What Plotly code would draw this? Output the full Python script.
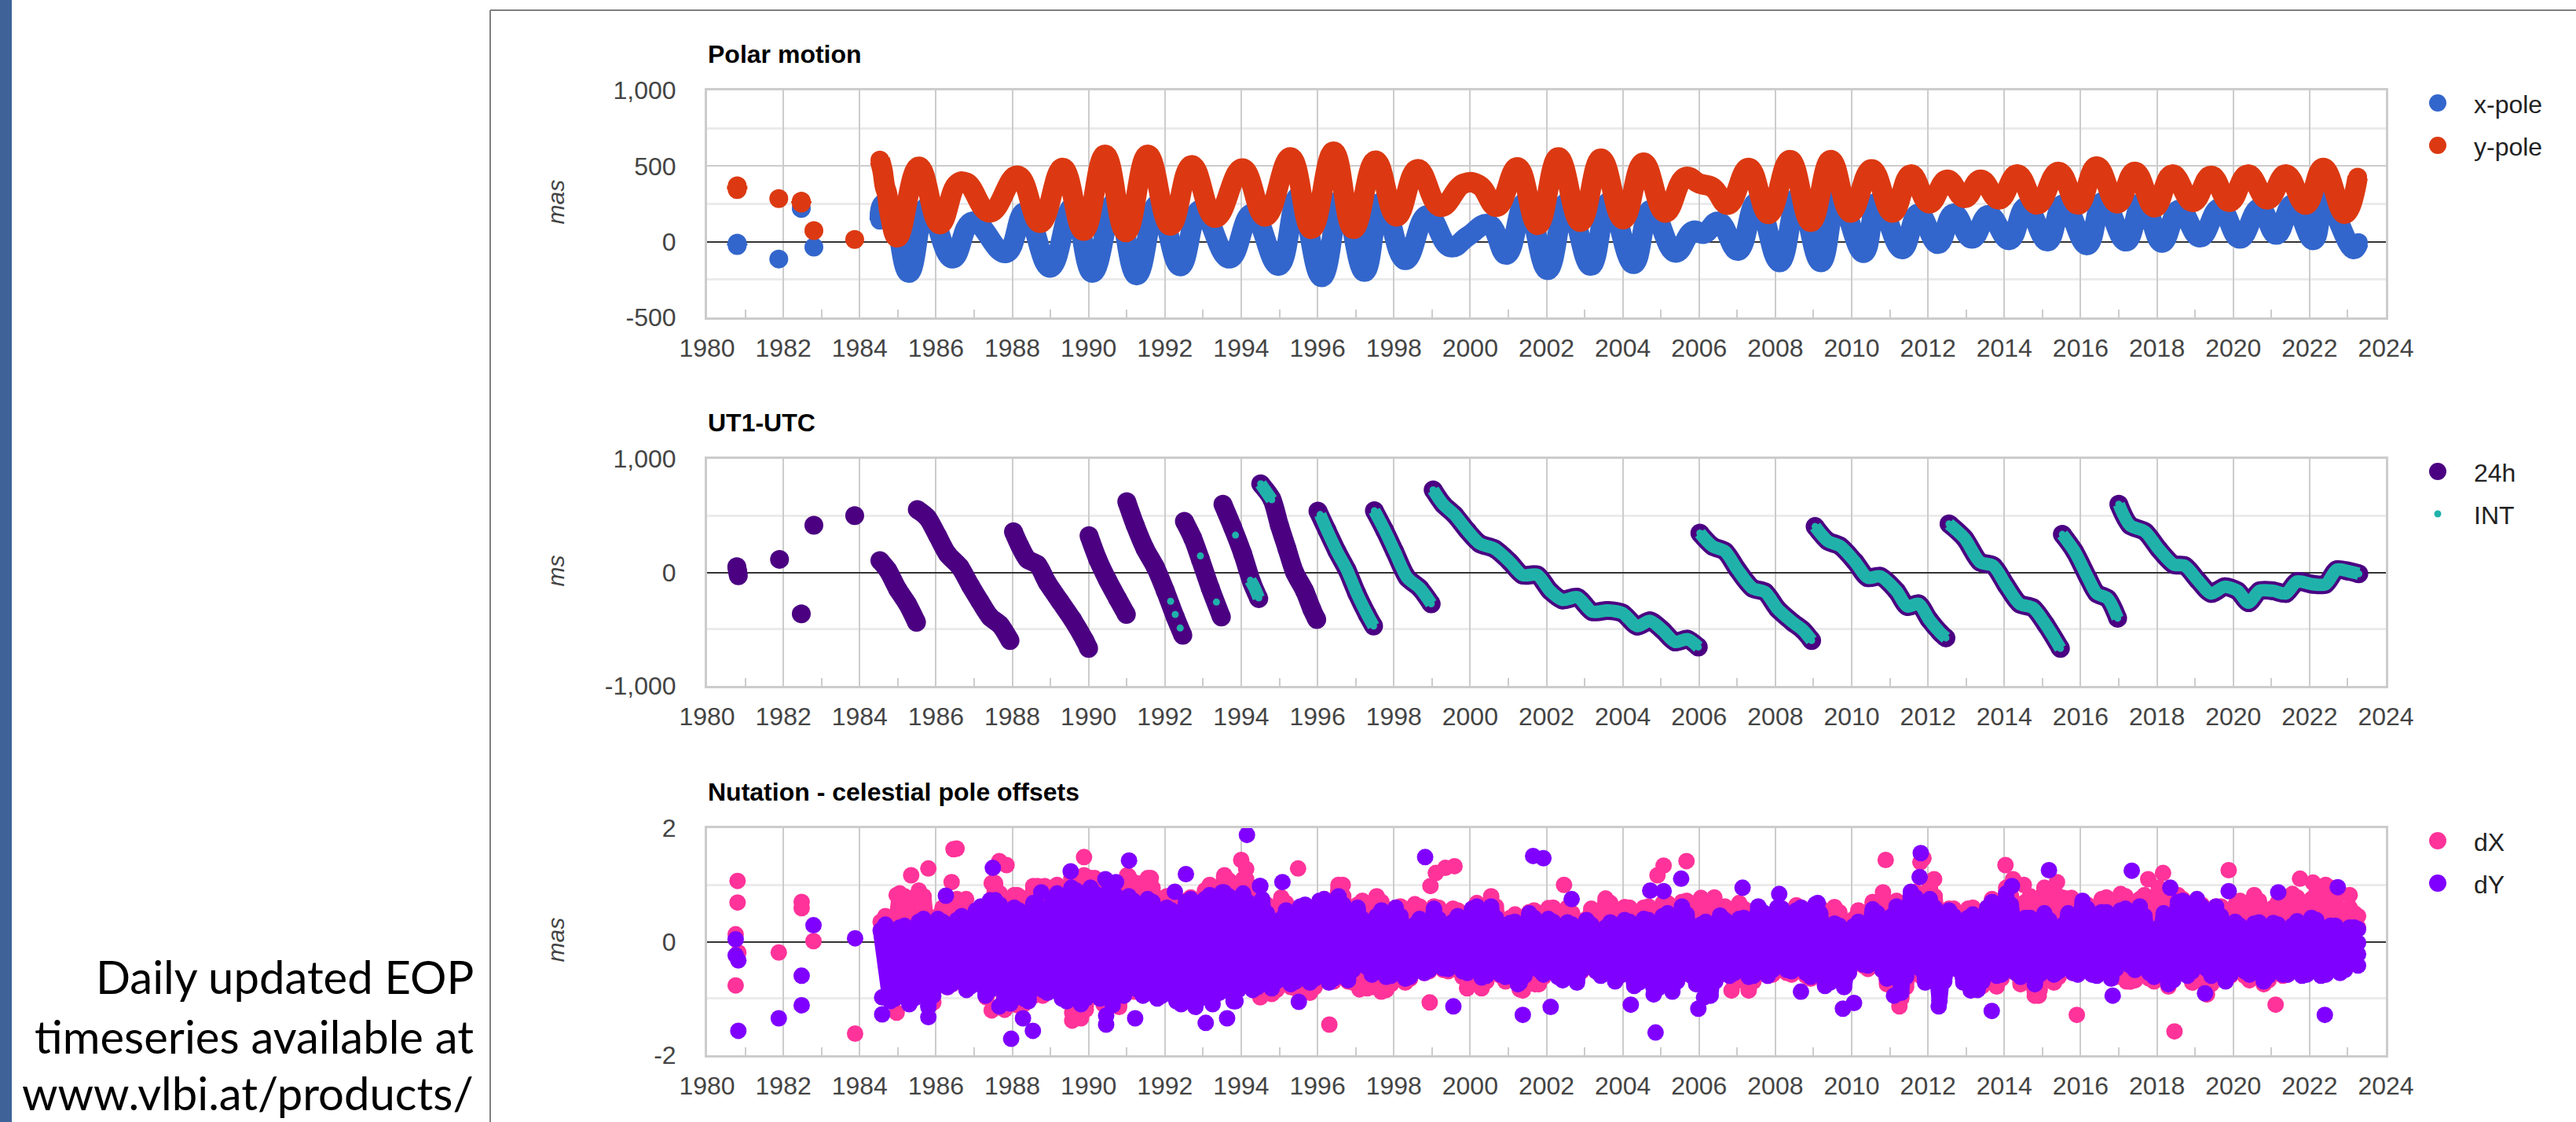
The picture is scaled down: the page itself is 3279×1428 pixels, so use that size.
import plotly.graph_objects as go

W, H = 3279, 1428

# ---------- Polar motion (mas) ----------
ypole_t = [1980.79, 1980.79, None, 1981.88, None, 1982.47, 1982.47, None, 1982.8, None, 1983.87, None,
    1984.53, 1984.6, 1984.66, 1984.72, 1984.79, 1984.99, 1985.55, 1986.1, 1986.56, 1986.8, 1987.41, 1988.14,
    1988.73, 1989.32, 1989.87, 1990.43, 1990.98, 1991.55, 1992.14, 1992.7, 1993.32, 1994.03, 1994.63, 1995.29,
    1995.84, 1996.42, 1996.94, 1997.52, 1998.07, 1998.62, 1999.22, 1999.83, 2000.23, 2000.7, 2001.24, 2001.77,
    2002.31, 2002.89, 2003.43, 2004.01, 2004.54, 2005.11, 2005.64, 2006.01, 2006.36, 2006.76, 2007.3, 2007.82,
    2008.38, 2008.93, 2009.45, 2009.97, 2010.52, 2011.07, 2011.55, 2012.03, 2012.5, 2012.96, 2013.38, 2013.86,
    2014.34, 2014.86, 2015.42, 2015.93, 2016.42, 2016.96, 2017.42, 2017.94, 2018.4, 2018.94, 2019.42, 2019.9,
    2020.38, 2020.9, 2021.38, 2021.9, 2022.36, 2022.92, 2023.26]
ypole_v = [370, 345, None, 285, None, 268, 255, None, 73, None, 15, None,
    540, 470, 367, 315, 185, 29, 495, 116, 384, 390, 194, 436,
    125, 488, 73, 574, 64, 574, 107, 505, 159, 483, 167, 557,
    85, 595, 85, 535, 167, 479, 231, 384, 375, 231, 491, 111,
    557, 132, 549, 149, 522, 193, 427, 384, 358, 245, 488, 184,
    540, 132, 540, 193, 479, 193, 444, 254, 410, 289, 410, 280,
    444, 246, 462, 246, 496, 254, 462, 228, 444, 263, 436, 263,
    444, 280, 444, 246, 488, 185, 427]
xpole_t = [1980.79, 1980.79, None, 1981.88, None, 1982.47, None, 1982.8, None,
    1984.53, 1984.6, 1984.79, 1985.29, 1985.77, 1986.43, 1986.96, 1987.83, 1988.33, 1988.99, 1989.58, 1990.1,
    1990.7, 1991.26, 1991.81, 1992.4, 1992.93, 1993.69, 1994.28, 1994.98, 1995.5, 1996.11, 1996.65, 1997.23,
    1997.69, 1998.3, 1998.88, 1999.48, 1999.94, 2000.49, 2000.95, 2001.45, 2002.03, 2002.55, 2003.16, 2003.64,
    2004.28, 2004.74, 2005.38, 2005.84, 2006.13, 2006.51, 2007.02, 2007.51, 2008.11, 2008.61, 2009.19, 2009.65,
    2010.31, 2010.69, 2011.32, 2011.75, 2012.26, 2012.67, 2013.15, 2013.59, 2014.13, 2014.57, 2015.13, 2015.55,
    2016.17, 2016.59, 2017.19, 2017.63, 2018.13, 2018.59, 2019.13, 2019.65, 2020.17, 2020.69, 2021.13, 2021.56,
    2022.1, 2022.42, 2023.15, 2023.28]
xpole_v = [-10, -25, None, -114, None, 220, None, -35, None,
    142, 245, 255, -204, 228, -109, 133, -74, 194, -170, 228, -204,
    263, -221, 246, -161, 211, -110, 184, -158, 297, -233, 288, -198,
    262, -120, 175, -36, 36, 115, -85, 262, -186, 262, -158, 262,
    -146, 210, -71, 71, 54, 132, -59, 262, -134, 297, -134, 280,
    -73, 262, -48, 185, -14, 185, 21, 176, 12, 228, 3, 246,
    -22, 263, 3, 263, -5, 211, 29, 220, 21, 220, 47, 246,
    12, 263, -48, -5]

# ---------- UT1-UTC (ms) ----------
ut24_t = [1980.78, 1980.8, 1980.82, None, 1981.9, None, 1982.47, None, 1982.8, None, 1983.87, None,
    1984.53, 1984.73, 1985.0, 1985.25, 1985.49, None,
    1985.51, 1985.77, 1986.04, 1986.3, 1986.63, 1986.9, 1987.15, 1987.42, 1987.68, 1987.94, None,
    1988.03, 1988.2, 1988.4, 1988.66, 1988.92, 1989.25, 1989.58, 1989.9, 1990.0, None,
    1990.01, 1990.24, 1990.5, 1990.76, 1990.99, None,
    1991.0, 1991.22, 1991.48, 1991.75, 1992.01, 1992.27, 1992.47, None,
    1992.51, 1992.73, 1992.93, 1993.19, 1993.48, None,
    1993.52, 1993.78, 1994.04, 1994.28, 1994.46, None,
    1994.51, 1994.8, 1995.0, 1995.2, 1995.4, 1995.66, 1995.85, 1995.98, None,
    1996.01, 1996.25, 1996.51, 1996.77, 1997.03, 1997.3, 1997.47, None,
    1997.49, 1997.76, 1998.02, 1998.35, 1998.68, 1998.98, None,
    1999.03, 1999.29, 1999.59, 1999.92, 2000.25, 2000.64, 2001.04, 2001.37, 2001.76, 2002.09, 2002.42, 2002.81,
    2003.2, 2003.6, 2003.99, 2004.38, 2004.71, 2005.04, 2005.37, 2005.7, 2005.98, None,
    2006.02, 2006.35, 2006.68, 2007.01, 2007.4, 2007.73, 2008.06, 2008.45, 2008.72, 2008.95, None,
    2009.04, 2009.37, 2009.7, 2010.09, 2010.42, 2010.75, 2011.17, 2011.46, 2011.75, 2012.03, 2012.32, 2012.47, None,
    2012.55, 2012.96, 2013.36, 2013.71, 2014.05, 2014.4, 2014.75, 2015.09, 2015.47, None,
    2015.52, 2015.84, 2016.19, 2016.42, 2016.71, 2016.97, None,
    2017.0, 2017.29, 2017.69, 2018.04, 2018.44, 2018.73, 2019.07, 2019.42, 2019.77, 2020.11, 2020.4, 2020.69,
    2021.04, 2021.38, 2021.67, 2022.07, 2022.42, 2022.71, 2023.0, 2023.29]
ut24_v = [50, 10, -30, None, 115, None, -365, None, 415, None, 500, None,
    104, 23, -150, -277, -439, None,
    554, 485, 323, 162, 46, -115, -254, -393, -462, -600, None,
    358, 231, 115, 69, -92, -254, -416, -600, -670, None,
    323, 115, -69, -231, -370, None,
    623, 416, 208, 46, -162, -393, -554, None,
    450, 300, 115, -139, -393, None,
    600, 392, 162, -92, -231, None,
    780, 647, 416, 208, 0, -162, -323, -416, None,
    540, 370, 185, 23, -185, -370, -473, None,
    543, 370, 185, -46, -139, -277, None,
    727, 600, 508, 370, 254, 208, 92, -23, -23, -162, -242, -219,
    -346, -335, -358, -473, -427, -508, -612, -589, -658, None,
    346, 231, 185, 23, -139, -173, -323, -439, -508, -600, None,
    404, 277, 231, 92, -46, -35, -162, -300, -277, -416, -531, -577, None,
    427, 300, 92, 58, -115, -277, -312, -462, -670, None,
    335, 185, -46, -185, -231, -404, None,
    600, 416, 358, 208, 69, 58, -69, -185, -127, -162, -266, -162,
    -162, -185, -81, -104, -104, 23, 12, -12]
int_early_t = [1992.15, None, 1992.27, None, 1992.4, None, 1992.93, None, 1993.35, None, 1993.85, None,
    1994.24, 1994.34, 1994.46, None, 1994.51, 1994.8, None, 1996.07]
int_early_v = [-254, None, -370, None, -490, None, 145, None, -261, None, 328, None,
    -70, -130, -225, None, 780, 640, None, 510]
late = [i for i, t in enumerate(ut24_t) if i >= ut24_t.index(1996.25)]
int_t = int_early_t + [ut24_t[i] for i in late]
int_v = int_early_v + [ut24_v[i] for i in late]

# ---------- Nutation (mas): upper / lower extent of the cloud, half-year by half-year ----------
band_start = 1984.55
dY_band = [.20,-1.05, .25,-1.1, .35,-1.15, .40,-.80, .38,-.85, .55,-.95, .73,-1.0, .60,-1.0, .68,-.85, .75,-1.0,
    .95,-1.1, .95,-1.0, 1.0,-.95, .80,-.85, .75,-1.0, .60,-1.05, .70,-1.15, .75,-.95, .87,-1.05, .85,-.85,
    .75,-.82, .40,-.75, .62,-.72, .72,-.72, .80,-.68, .60,-.45, .45,-.62, .60,-.65, .30,-.55, .58,-.47,
    .35,-.52, .58,-.63, .62,-.58, .33,-.72, .50,-.50, .40,-.62, .34,-.72, .38,-.52, .25,-.70, .38,-.78,
    .40,-.80, .45,-.88, .62,-.60, .30,-.95, .46,-.60, .40,-.62, .62,-.60, .60,-.50, .55,-.55, .66,-.78,
    .32,-.80, .27,-.40, .57,-.50, .45,-.90, .88,-.48, .75,-1.05, .55,-.50, .42,-.85, .60,-.60, .85,-.55,
    .42,-.75, .50,-.58, .30,-.55, .72,-.58, .52,-.65, .55,-.42, .62,-.55, .25,-.75, .70,-.60, .75,-.48,
    .62,-.70, .35,-.52, .32,-.70, .33,-.58, .28,-.60, .42,-.60, .28,-.55, .25]
dY_band2 = [.30,-1.0, .28,-1.0, .40,-.95, .35,-.72, .45,-.78, .62,-.85, .65,-.90, .55,-1.05, .62,-.90, .85,-1.05,
    .90,-1.0, .85,-.90, .85,-.95, .72,-.95, .70,-.95, .55,-1.1, .75,-1.0, .82,-.90, .80,-.85, .70,-.80,
    .50,-.70, .55,-.70, .65,-.65, .75,-.65, .65,-.50, .40,-.58, .55,-.60, .45,-.62, .40,-.50, .40,-.48,
    .45,-.55, .62,-.60, .42,-.62, .35,-.60, .42,-.58, .35,-.68, .30,-.50, .30,-.60, .34,-.60, .35,-.72,
    .38,-.82, .50,-.70, .48,-.75, .35,-.70, .38,-.55, .42,-.60, .52,-.50, .58,-.52, .60,-.62, .50,-.72,
    .28,-.55, .35,-.42, .50,-.65, .62,-.62, .78,-.72, .60,-.70, .45,-.72, .48,-.70, .70,-.58, .65,-.62,
    .42,-.58, .38,-.52, .50,-.58, .58,-.60, .52,-.48, .58,-.50, .45,-.62, .50,-.68, .72,-.52, .62,-.60,
    .45,-.58, .28,-.58, .34,-.60, .30,-.58, .36,-.58, .38,-.58, .28,-.50, .25]
dX_band = [.35,-.50, .85,-.90, .90,-1.0, .45,-.80, .75,-.70, .40,-.85, 1.03,-1.2, .82,-1.1, .98,-.95, .95,-.90,
    1.12,-1.35, 1.12,-.70, .85,-1.15, 1.15,-.88, 1.12,-.70, .80,-.85, .72,-.90, .90,-.80, 1.15,-.70, 1.10,-.75,
    .70,-.92, .78,-.80, .55,-.90, .60,-.70, 1.0,-.70, .65,-.82, .80,-.85, .60,-.72, .66,-.55, .62,-.50,
    .58,-.62, .55,-.82, .80,-.60, .42,-.84, .52,-.75, .59,-.50, .60,-.55, .40,-.52, .76,-.55, .61,-.55,
    .60,-.55, .68,-.68, .70,-.60, .77,-.60, .55,-.60, .68,-.86, .47,-.60, .50,-.55, .64,-.60, .60,-.75,
    .61,-.70, .40,-.42, .70,-.50, .68,-1.0, .80,-.60, 1.0,-.75, .58,-.50, .58,-.75, .60,-.79, .95,-.55,
    .70,-.95, .95,-.72, .77,-.55, .55,-.55, .75,-.55, .84,-.70, .75,-.65, .95,-.79, .82,-.55, .70,-.92,
    .62,-.60, .64,-.60, .82,-.75, .60,-.60, .84,-.55, .75,-.50, .95,-.50, .60]
dX_band2 = [.45,-.60, .80,-.85, .80,-.95, .60,-.75, .65,-.70, .55,-.85, .85,-1.05, .80,-.95, .90,-.85, 1.0,-.95,
    1.05,-1.2, .95,-.75, 1.0,-.95, 1.05,-.80, .95,-.72, .72,-.85, .78,-.85, 1.0,-.75, 1.08,-.70, .85,-.80,
    .65,-.85, .68,-.82, .58,-.80, .75,-.70, .80,-.72, .72,-.80, .70,-.75, .62,-.65, .62,-.52, .60,-.52,
    .55,-.70, .68,-.70, .62,-.70, .48,-.78, .55,-.62, .60,-.52, .50,-.52, .58,-.52, .68,-.55, .60,-.55,
    .62,-.60, .68,-.62, .72,-.60, .65,-.60, .62,-.72, .58,-.70, .48,-.58, .58,-.58, .60,-.65, .60,-.72,
    .52,-.55, .55,-.48, .68,-.75, .72,-.80, .88,-.68, .80,-.62, .58,-.62, .60,-.78, .75,-.65, .80,-.75,
    .80,-.85, .85,-.62, .65,-.55, .65,-.55, .78,-.62, .80,-.68, .82,-.70, .88,-.65, .75,-.72, .65,-.75,
    .62,-.60, .72,-.68, .72,-.68, .70,-.58, .78,-.52, .85,-.50, .80,-.48, .50]
dX_pts_t = [1980.8, 1980.8, 1980.75, 1980.82, 1980.75, 1981.88, 1982.48, 1982.48, 1982.79, 1983.88,
    1985.8, 1986.46, 1986.54, 1985.35, 1984.97, 1986.41, 1986.79, 1987.66, 1987.85, 1987.46, 1988.13, 1988.66, 1988.85,
    1989.88, 1989.88, 1990.16, 1991.01, 1991.63, 1991.25, 1993.56, 1994.0, 1994.13, 1994.13, 1993.07, 1993.7,
    1984.97, 1986.26, 1987.46, 1987.32, 1988.13, 1988.57, 1989.57, 1989.57, 1991.2, 1990.39, 1994.5, 1985.93,
    1995.49, 1996.66, 1998.96, 1999.1, 1999.35, 1999.59, 2002.46, 2004.91, 2005.07, 2005.67, 2006.4,
    1996.31, 1998.94, 1997.1, 1997.67, 1999.92, 2001.38, 2001.7, 2006.85, 1994.5,
    2010.89, 2011.88, 2011.8, 2012.16, 2010.82, 2014.03, 2014.23, 2014.51, 2015.38, 2015.38, 2015.76, 2017.77, 2018.16,
    2019.88, 2021.75, 2022.09, 2022.42, 2023.05,
    2011.25, 2013.12, 2014.9, 2015.9, 2017.2, 2017.3, 2018.46, 2021.11, 2019.31, 2023.27, 2023.27]
dX_pts_v = [1.07, .69, .13, -.19, -.77, -.19, .70, .59, .01, -1.62,
    1.29, 1.63, 1.64, 1.17, .82, 1.05, .75, 1.42, 1.35, 1.03, .82, .98, .98,
    1.49, 1.17, 1.12, 1.17, 1.12, 1.03, 1.17, 1.44, 1.28, 1.10, .91, .75,
    -1.25, -.77, -1.21, -.98, -1.12, -.95, -1.39, -1.25, -.88, -1.10, -.93, -1.07,
    1.29, 1.0, .98, 1.21, 1.30, 1.33, 1.0, 1.17, 1.34, 1.42, .78,
    -1.46, -1.07, -.84, -.88, -.82, -.86, -.75, -.86, -.98,
    1.44, 1.47, 1.40, 1.10, .87, 1.35, 1.10, 1.0, 1.05, .82, .77, 1.10, 1.21,
    1.26, 1.11, 1.04, 1.0, .82,
    -1.14, -.75, -.95, -1.29, -.70, -.70, -1.58, -1.11, -.93, .45, .25]
dY_pts_t = [1980.75, 1980.75, 1980.82, 1980.82, 1981.88, 1982.48, 1982.48, 1982.79, 1983.88,
    1984.59, 1984.59, 1985.8, 1986.26, 1986.41, 1987.49, 1987.42, 1987.66, 1987.95, 1987.97, 1988.28, 1988.54, 1988.76,
    1989.53, 1990.44, 1990.72, 1991.06, 1990.46, 1990.46, 1990.63, 1991.22, 1992.26, 1992.55, 1993.07, 1993.63, 1994.15,
    1994.49, 1993.5, 1993.25, 1993.85,
    1994.5, 1995.08, 1995.51, 1998.82, 2001.65, 2001.92, 2002.66, 1999.56, 2001.38, 2002.11, 2004.21, 2004.86, 2004.81,
    2004.72, 2005.07, 2005.53, 2007.14, 2008.1, 2009.11, 2008.67, 2005.98, 2006.13, 2001.25,
    2011.81, 2011.78, 2015.17, 2017.34, 2018.35, 2019.88, 2021.18, 2022.74, 2014.2,
    2009.77, 2010.06, 2013.67, 2013.12, 2016.84, 2022.4, 2019.26, 2012.28, 2011.11,
    2023.27, 2023.27, 2023.27, 2023.27]
dY_pts_v = [.04, -.24, -.33, -1.57, -1.35, -.60, -1.12, .29, .06,
    -1.28, -.98, -1.33, .81, -.75, 1.30, .73, -1.14, -1.09, -1.71, -1.35, -1.57, .87,
    1.24, 1.10, 1.05, 1.43, -1.46, -1.30, -1.12, -1.35, .88, 1.19, -1.43, -1.35, 1.88,
    .98, .87, -1.10, -1.05,
    .98, 1.05, -1.06, 1.49, 1.51, 1.47, .75, -1.14, -1.29, -1.15, -1.11, -1.60, -.93,
    .90, .89, 1.11, .95, .84, .68, -.88, -1.18, -.98, -.75,
    1.56, 1.14, 1.26, 1.25, .95, .89, .87, .96, .98,
    -1.18, -1.08, -1.22, -.86, -.95, -1.29, -.91, -1.14, -.95,
    .22, -.02, -.22, -.42]

band_t = [round(band_start + 0.25 * i, 3) for i in range(len(dY_band))]
band2_t = [round(band_start + 0.125 + 0.25 * i, 3) for i in range(len(dY_band2))]

year_ticks = list(range(1980, 2025, 2))
minor_years = list(range(1981, 2024, 2))

BLUE, RED = "#3366CC", "#DC3912"
INDIGO, TEAL = "#4B0082", "#20B2AA"
PINK, VIOLET = "#FF3399", "#8000FF"
GRID, LIGHT, ZERO, LABEL = "#CCCCCC", "#EBEBEB", "#333333", "#444444"
FONT = "Liberation Sans"
FS = 32
MS = 22

def px(x):
    return x / W
def py(y):
    return 1 - y / H

fig = go.Figure()

def add(t, v, name, color, ms, lw, xa, ya, shape="linear", mode="lines+markers", smooth=1.0):
    fig.add_trace(go.Scatter(x=t, y=v, name=name, mode=mode, xaxis=xa, yaxis=ya, showlegend=False,
                             marker=dict(color=color, size=ms, line=dict(width=0)),
                             line=dict(color=color, width=lw, shape=shape, smoothing=smooth)))

add(xpole_t, xpole_v, "x-pole", BLUE, 24, 26, "x", "y", "spline", smooth=1.3)
add(ypole_t, ypole_v, "y-pole", RED, 24, 26, "x", "y", "spline", smooth=1.3)
add(ut24_t, ut24_v, "24h", INDIGO, 24, 24, "x2", "y2", "spline", smooth=0.8)
add(int_t, int_v, "INT", TEAL, 9, 16, "x2", "y2", "spline", smooth=0.8)
add(band_t, dX_band, "dX", PINK, 21, 20, "x3", "y3")
add(band2_t, dX_band2, "dX", PINK, 21, 20, "x3", "y3")
add(dX_pts_t, dX_pts_v, "dX", PINK, 21, 0, "x3", "y3", mode="markers")
add(band_t, dY_band, "dY", VIOLET, 21, 20, "x3", "y3")
add(band2_t, dY_band2, "dY", VIOLET, 21, 20, "x3", "y3")
add(dY_pts_t, dY_pts_v, "dY", VIOLET, 21, 0, "x3", "y3", mode="markers")

panels = [
    dict(top=115, bottom=404, rng=[-500, 1000], vals=[-500, 0, 500, 1000], text=["-500", "0", "500", "1,000"],
         minor=[-250, 250, 750], unit="mas", title="Polar motion", tx=69, major=GRID,
         legend=[("x-pole", BLUE, MS), ("y-pole", RED, MS)]),
    dict(top=584, bottom=873, rng=[-1000, 1000], vals=[-1000, 0, 1000], text=["-1,000", "0", "1,000"],
         minor=[-500, 500], unit="ms", title="UT1-UTC", tx=538, major=GRID,
         legend=[("24h", INDIGO, MS), ("INT", TEAL, 9)]),
    dict(top=1054, bottom=1343, rng=[-2, 2], vals=[-2, 0, 2], text=["-2", "0", "2"],
         minor=[-1, 1], unit="mas", title="Nutation - celestial pole offsets", tx=1008, major=GRID,
         legend=[("dX", PINK, MS), ("dY", VIOLET, MS)]),
]

LEFT, RIGHT = 900, 3037
annotations, shapes = [], []

def text(s, x, y, size=FS, color=LABEL, xanchor="left", angle=0, family=FONT, bold=False, italic=False):
    if bold:
        s = "<b>" + s + "</b>"
    if italic:
        s = "<i>" + s + "</i>"
    annotations.append(dict(text=s, x=px(x), y=py(y), xref="paper", yref="paper", showarrow=False,
                            xanchor=xanchor, yanchor="middle", textangle=angle, borderpad=0,
                            font=dict(family=family, size=size, color=color)))

for i, p in enumerate(panels):
    suffix = "" if i == 0 else str(i + 1)
    fig.layout["xaxis" + suffix] = dict(
        domain=[px(LEFT), px(RIGHT)], range=[1980, 2024], anchor="y" + suffix, automargin=False,
        tickmode="array", tickvals=year_ticks, ticktext=[str(y) for y in year_ticks], ticks="",
        tickfont=dict(family=FONT, size=FS, color=LABEL), ticklabelstandoff=9,
        showgrid=True, gridcolor=GRID, gridwidth=2, zeroline=False,
        showline=True, linecolor=GRID, linewidth=3, mirror=True,
        minor=dict(tickmode="array", tickvals=minor_years, ticks="inside", ticklen=10,
                   tickwidth=2, tickcolor=GRID, showgrid=False))
    fig.layout["yaxis" + suffix] = dict(
        domain=[py(p["bottom"]), py(p["top"])], range=p["rng"], anchor="x" + suffix, automargin=False,
        tickmode="array", tickvals=p["vals"], ticktext=p["text"], ticks="",
        tickfont=dict(family=FONT, size=FS, color=LABEL), ticklabelstandoff=30,
        showgrid=True, gridcolor=p["major"], gridwidth=2,
        zeroline=True, zerolinecolor=ZERO, zerolinewidth=2,
        showline=True, linecolor=GRID, linewidth=3, mirror=True,
        minor=dict(tickmode="array", tickvals=p["minor"], ticks="", showgrid=True, gridcolor=LIGHT, gridwidth=3))
    text(p["title"], LEFT, p["tx"], color="#000000", bold=True)
    text(p["unit"], 707, (p["top"] + p["bottom"]) / 2 - 2, size=30, angle=-90, xanchor="center", italic=True)
    for k, (lab, col, size) in enumerate(p["legend"]):
        cy = p["top"] + 16 + 54 * k
        r = size / 2
        shapes.append(dict(type="circle", xref="paper", yref="paper", x0=px(3103 - r), x1=px(3103 + r),
                           y0=py(cy + r), y1=py(cy - r), fillcolor=col, line=dict(width=0)))
        text(lab, 3148, cy + 2, color="#222222")

# Slide frame and side bar
shapes.append(dict(type="rect", xref="paper", yref="paper", x0=0, x1=px(15), y0=0, y1=1,
                   fillcolor="#3F6399", line=dict(width=0)))
shapes.append(dict(type="line", xref="paper", yref="paper", x0=px(624), x1=px(624), y0=0, y1=py(13),
                   line=dict(color="#7F7F7F", width=2)))
shapes.append(dict(type="line", xref="paper", yref="paper", x0=px(624), x1=1, y0=py(13), y1=py(13),
                   line=dict(color="#7F7F7F", width=2)))

caption = [("Daily updated EOP", 1242), ("timeseries available at", 1318), ("www.vlbi.at/products/", 1390)]
for line, cy in caption:
    text(line, 604, cy, size=58, color="#000000", xanchor="right", family="Lato")

fig.update_layout(template="none", width=W, height=H, autosize=False,
                  margin=dict(l=0, r=0, t=0, b=0, pad=0, autoexpand=False),
                  paper_bgcolor="#FFFFFF", plot_bgcolor="#FFFFFF", showlegend=False,
                  annotations=annotations, shapes=shapes, hovermode=False)

fig.write_html("out.html", config={"displayModeBar": False},
               post_script="document.body.style.margin='0';document.body.style.overflow='hidden';")
